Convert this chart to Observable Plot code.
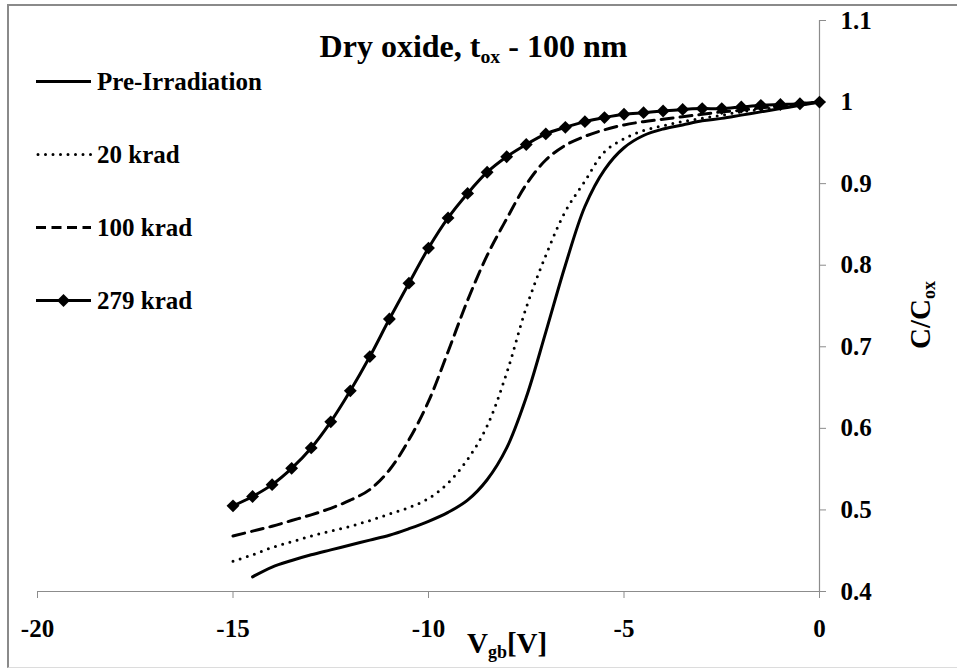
<!DOCTYPE html>
<html>
<head>
<meta charset="utf-8">
<script src="https://cdn.jsdelivr.net/npm/d3@7"></script>
<script src="https://cdn.jsdelivr.net/npm/@observablehq/plot@0.6"></script>
<style>
  html, body { margin: 0; padding: 0; background: #fff; }
  #wrap { position: relative; width: 957px; height: 671px; overflow: hidden; font-family: "Liberation Serif", "Times New Roman", serif; font-weight: bold; color: #000; }
  #wrap svg.plot { position: absolute; left: 0; top: 0; }
  .abs { position: absolute; white-space: nowrap; line-height: 1; font-family: "Liberation Serif", "Times New Roman", serif; font-weight: bold; }
  sub { font-size: 0.62em; vertical-align: baseline; position: relative; top: 0.28em; }
</style>
</head>
<body>
<div id="wrap"></div>
<script>
// ---- data ----
const vgb = [-15,-14.5,-14,-13.5,-13,-12.5,-12,-11.5,-11,-10.5,-10,-9.5,-9,-8.5,-8,-7.5,-7,-6.5,-6,-5.5,-5,-4.5,-4,-3.5,-3,-2.5,-2,-1.5,-1,-0.5,0];
// Pre-Irradiation starts at -14.5 V
const preIrradiation = [null,0.418,0.430,0.438,0.445,0.451,0.457,0.463,0.469,0.477,0.486,0.497,0.512,0.537,0.576,0.638,0.718,0.800,0.872,0.917,0.944,0.959,0.967,0.972,0.977,0.980,0.984,0.988,0.992,0.996,1.000];
const krad20  = [0.437,0.445,0.454,0.461,0.468,0.474,0.480,0.487,0.495,0.503,0.514,0.533,0.562,0.603,0.668,0.748,0.812,0.866,0.903,0.939,0.955,0.965,0.971,0.976,0.980,0.984,0.988,0.991,0.994,0.997,1.000];
const krad100 = [0.468,0.474,0.480,0.487,0.494,0.502,0.512,0.525,0.549,0.586,0.633,0.694,0.757,0.812,0.857,0.899,0.929,0.947,0.958,0.966,0.972,0.976,0.979,0.982,0.985,0.988,0.990,0.993,0.995,0.998,1.000];
const krad279 = [0.505,0.5165,0.531,0.551,0.576,0.608,0.646,0.688,0.734,0.778,0.821,0.858,0.888,0.914,0.933,0.948,0.961,0.969,0.976,0.981,0.985,0.987,0.989,0.991,0.992,0.992,0.994,0.996,0.997,0.998,1.000];
const seriesNames = ["Pre-Irradiation","20 krad","100 krad","279 krad"];
const xTicks = [-20,-15,-10,-5,0];
const yTicks = [0.4,0.5,0.6,0.7,0.8,0.9,1,1.1];

const toRows = (vals) => vgb.map((v,i) => ({x: v, y: vals[i]})).filter(d => d.y != null);
const rowsPre = toRows(preIrradiation);
const rows20 = toRows(krad20);
const rows100 = toRows(krad100);
const rows279 = toRows(krad279);

const axisGray = "#8c8c8c";
const lw = 3;
const fam = "'Liberation Serif', 'Times New Roman', serif";

const chart = Plot.plot({
  width: 957,
  height: 671,
  marginLeft: 37,
  marginRight: 138,
  marginTop: 20,
  marginBottom: 80,
  style: { fontFamily: fam, fontWeight: "bold", fontSize: "25px", background: "transparent", overflow: "visible" },
  x: { domain: [-20, 0] },
  y: { domain: [0.4, 1.1] },
  marks: [
    Plot.ruleY([0.4], { stroke: axisGray, strokeWidth: 1.2 }),
    Plot.ruleX([0], { stroke: axisGray, strokeWidth: 1.2 }),
    Plot.axisX({ ticks: xTicks, tickSize: 7, tickPadding: 21, tickFormat: d => String(d), stroke: axisGray, label: null, fill: "#000", fontFamily: fam, fontWeight: "bold" }),
    Plot.axisY({ anchor: "right", ticks: yTicks, tickSize: 6, tickPadding: 15, tickFormat: d => String(d), stroke: axisGray, label: null, fill: "#000", textAnchor: "start", fontFamily: fam, fontWeight: "bold" }),
    Plot.line(rowsPre, { x: "x", y: "y", stroke: "#000", strokeWidth: lw, curve: "catmull-rom" }),
    Plot.line(rows20, { x: "x", y: "y", stroke: "#000", strokeWidth: lw, curve: "catmull-rom", strokeDasharray: "0,7.5", strokeLinecap: "round" }),
    Plot.line(rows100, { x: "x", y: "y", stroke: "#000", strokeWidth: lw, curve: "catmull-rom", strokeDasharray: "12,7" }),
    Plot.line(rows279, { x: "x", y: "y", stroke: "#000", strokeWidth: lw, curve: "catmull-rom" }),
    Plot.dot(rows279, { x: "x", y: "y", symbol: "diamond2", r: 5.8, fill: "#000", stroke: "none" })
  ]
});
chart.classList.add("plot");

const wrap = document.getElementById("wrap");
wrap.appendChild(chart);

// outer frame
const frame = document.createElement("div");
frame.className = "abs";
Object.assign(frame.style, { left: "7px", top: "4px", width: "960px", height: "664px", borderLeft: "2px solid #8a8a8a", borderTop: "2px solid #8a8a8a", borderBottom: "1px solid #dcdcdc", boxSizing: "border-box" });
wrap.appendChild(frame);

// title
const title = document.createElement("div");
title.className = "abs";
Object.assign(title.style, { left: "0px", width: "947px", textAlign: "center", top: "30px", fontSize: "32px" });
title.innerHTML = "Dry oxide, t<sub>ox</sub> - 100 nm";
wrap.appendChild(title);

// x label
const xl = document.createElement("div");
xl.className = "abs";
Object.assign(xl.style, { left: "467px", top: "629px", fontSize: "29px" });
xl.innerHTML = "V<sub>gb</sub>[V]";
wrap.appendChild(xl);

// y label (rotated)
const yl = document.createElement("div");
yl.className = "abs";
Object.assign(yl.style, { left: "861px", top: "300px", width: "120px", textAlign: "center", fontSize: "29px", transform: "rotate(-90deg)", transformOrigin: "60px 15px" });
yl.innerHTML = "C/C<sub>ox</sub>";
wrap.appendChild(yl);

// legend
const legendBaselines = [90, 163, 236, 309];
const ns = "http://www.w3.org/2000/svg";
const lsvg = document.createElementNS(ns, "svg");
lsvg.setAttribute("width", "100");
lsvg.setAttribute("height", "340");
Object.assign(lsvg.style, { position: "absolute", left: "0px", top: "0px" });
const styles = [
  { dash: null, cap: "butt" },
  { dash: "0,7.5", cap: "round" },
  { dash: "10,5.5", cap: "butt" },
  { dash: null, cap: "butt", marker: true }
];
seriesNames.forEach((name, i) => {
  const cy = legendBaselines[i] - 8.5;
  const ln = document.createElementNS(ns, "line");
  ln.setAttribute("x1", styles[i].cap === "round" ? 38 : 36);
  ln.setAttribute("x2", 91);
  ln.setAttribute("y1", cy);
  ln.setAttribute("y2", cy);
  ln.setAttribute("stroke", "#000");
  ln.setAttribute("stroke-width", lw);
  if (styles[i].dash) ln.setAttribute("stroke-dasharray", styles[i].dash);
  ln.setAttribute("stroke-linecap", styles[i].cap);
  lsvg.appendChild(ln);
  if (styles[i].marker) {
    const m = document.createElementNS(ns, "path");
    const s = 6.5, cx = 63.5;
    m.setAttribute("d", `M${cx},${cy - s}L${cx + s},${cy}L${cx},${cy + s}L${cx - s},${cy}Z`);
    m.setAttribute("fill", "#000");
    lsvg.appendChild(m);
  }
  const t = document.createElement("div");
  t.className = "abs";
  Object.assign(t.style, { left: "97px", top: (legendBaselines[i] - 0.8375 * 25) + "px", fontSize: "25px" });
  t.textContent = name;
  wrap.appendChild(t);
});
wrap.appendChild(lsvg);
</script>
</body>
</html>
